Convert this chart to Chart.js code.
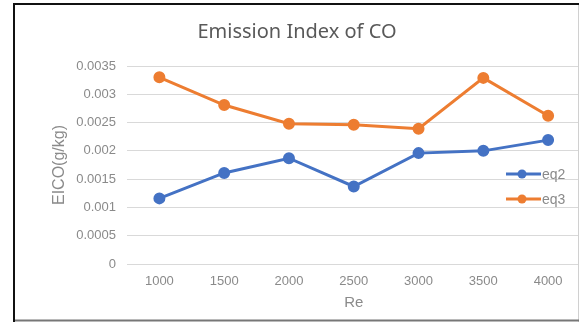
<!DOCTYPE html>
<html>
<head>
<meta charset="utf-8">
<script src="https://cdn.jsdelivr.net/npm/chart.js@4.4.1/dist/chart.umd.min.js"></script>
<style>
html, body { margin: 0; padding: 0; background: #fff; overflow: hidden; }
</style>
</head>
<body>
<canvas id="myChart" width="588" height="322"></canvas>
<script>
const reLabels = ['1000', '1500', '2000', '2500', '3000', '3500', '4000'];
const eq2 = [0.00116, 0.00161, 0.00187, 0.00137, 0.00196, 0.00200, 0.00219];
const eq3 = [0.00330, 0.00281, 0.00248, 0.00246, 0.00239, 0.00329, 0.00262];
const seriesNames = ['eq2', 'eq3'];
const seriesColors = ['#4472C4', '#ED7D31'];

const tickColor = '#8a8a8a';

// little legend sitting inside the plot, right side
const insideLegend = {
    id: 'insideLegend',
    afterDatasetsDraw(chart) {
        const c = chart.ctx;
        c.save();
        chart.data.datasets.forEach((ds, i) => {
            const y = 174 + i * 25;
            c.strokeStyle = ds.borderColor;
            c.lineWidth = 3;
            c.beginPath();
            c.moveTo(506, y);
            c.lineTo(541, y);
            c.stroke();
            c.fillStyle = ds.borderColor;
            c.beginPath();
            c.arc(522, y, 4.5, 0, Math.PI * 2);
            c.fill();
            c.fillStyle = tickColor;
            c.font = '14px "Liberation Sans", Arial, sans-serif';
            c.textBaseline = 'middle';
            c.fillText(ds.label, 542, y + 1);
        });
        c.restore();
    }
};

// frame round the chart
const frame = {
    id: 'frame',
    afterDraw(chart) {
        const c = chart.ctx;
        c.save();
        c.fillStyle = '#fff';
        c.fillRect(578, 0, 20, 322);
        c.strokeStyle = '#d0d0d0';
        c.lineWidth = 1;
        c.beginPath();
        c.moveTo(578.5, 3);
        c.lineTo(578.5, 322);
        c.stroke();
        c.strokeStyle = '#777';
        c.lineWidth = 2;
        c.beginPath();
        c.moveTo(13, 320.5);
        c.lineTo(579, 320.5);
        c.stroke();
        c.strokeStyle = '#111';
        c.beginPath();
        c.moveTo(14, 322);
        c.lineTo(14, 4);
        c.lineTo(579, 4);
        c.stroke();
        c.restore();
    }
};

const ctx = document.getElementById('myChart').getContext('2d');

const myChart = new Chart(ctx, {
    type: 'line',
    data: {
        labels: reLabels,
        datasets: [eq2, eq3].map((vals, i) => ({
            label: seriesNames[i],
            data: vals,
            borderColor: seriesColors[i],
            backgroundColor: seriesColors[i],
            pointBackgroundColor: seriesColors[i],
            pointBorderColor: seriesColors[i],
            borderWidth: 3,
            pointRadius: 4.5,
            tension: 0
        }))
    },
    options: {
        responsive: false,
        animation: false,
        layout: { padding: { left: 6, right: 0, top: 0, bottom: 0 } },
        plugins: {
            legend: { display: false },
            tooltip: { enabled: false },
            title: {
                display: true,
                text: 'Emission Index of CO',
                color: '#595959',
                font: { family: '"Noto Sans", sans-serif', size: 20, weight: 'normal' },
                padding: { top: 20, bottom: 22 }
            }
        },
        scales: {
            x: {
                offset: true,
                grid: { display: false, drawTicks: false },
                border: { display: false },
                ticks: {
                    color: tickColor,
                    padding: 10,
                    maxRotation: 0,
                    font: { family: '"Liberation Sans", Arial, sans-serif', size: 13 }
                },
                title: {
                    display: true,
                    text: 'Re',
                    color: tickColor,
                    font: { family: '"Liberation Sans", Arial, sans-serif', size: 15 },
                    padding: { top: 0, bottom: 10 }
                },
                afterFit(scale) { scale.height = 58; }
            },
            y: {
                min: 0,
                max: 0.0035,
                grid: { color: '#d9d9d9', lineWidth: 1, drawTicks: false },
                border: { display: false },
                ticks: {
                    stepSize: 0.0005,
                    color: tickColor,
                    padding: 11,
                    font: { family: '"Liberation Sans", Arial, sans-serif', size: 13 },
                    callback: v => String(+v.toFixed(4))
                },
                title: {
                    display: true,
                    text: 'EICO(g/kg)',
                    color: tickColor,
                    font: { family: '"Liberation Sans", Arial, sans-serif', size: 16 },
                    padding: { top: 44.4, bottom: 0 }
                },
                afterFit(scale) { scale.width = 121; }
            }
        }
    },
    plugins: [insideLegend, frame]
});
</script>
</body>
</html>
